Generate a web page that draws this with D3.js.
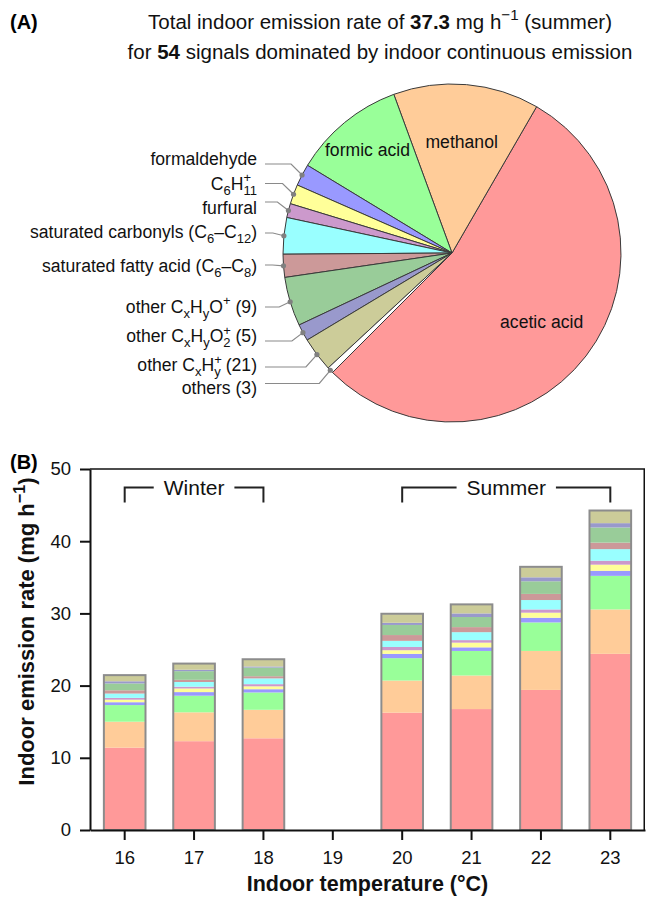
<!DOCTYPE html>
<html>
<head>
<meta charset="utf-8">
<script src="https://cdn.jsdelivr.net/npm/d3@7"></script>
<style>
  body { margin: 0; background: #fff; }
  svg { display: block; font-family: "Liberation Sans", Arial, sans-serif; }
</style>
</head>
<body>
<div id="chart"></div>
<script>
// species, in stacking order (bottom of bar first)
const species = ["acetic acid", "methanol", "formic acid", "formaldehyde", "C6H11+", "furfural",
                 "saturated carbonyls (C6-C12)", "saturated fatty acid (C6-C8)",
                 "other CxHyO+ (9)", "other CxHyO2+ (5)", "other CxHy+ (21)", "others (3)"];
const speciesColors = ["#ff9999", "#ffcc99", "#99ff99", "#9999ff", "#ffff99", "#cc99cc",
                       "#99ffff", "#cc9999", "#99cc99", "#9999cc", "#cccc99", "#ffffff"];

// (A) summer emission rates, mg/h (total 37.3)
const summerRates = [20.2, 5.2, 4.0, 0.78, 0.7, 0.5, 1.3, 0.82, 1.75, 0.6, 1.23, 0.22];

// (B) indoor emission rate per temperature, mg/h (no data at 19 °C)
const temperatures = [16, 17, 18, 19, 20, 21, 22, 23];
const aceticAcid    = [11.4, 12.3, 12.7, null, 16.25, 16.75, 19.4, 24.4];
const methanol      = [3.6, 4.0, 3.95, null, 4.45, 4.65, 5.4, 6.15];
const formicAcid    = [2.3, 2.3, 2.4, null, 3.1, 3.4, 3.95, 4.65];
const formaldehyde  = [0.4, 0.5, 0.45, null, 0.6, 0.5, 0.65, 0.7];
const c6h11         = [0.35, 0.5, 0.4, null, 0.5, 0.65, 0.7, 0.85];
const furfural      = [0.25, 0.25, 0.3, null, 0.45, 0.35, 0.45, 0.55];
const satCarbonyls  = [0.6, 0.65, 0.8, null, 0.85, 1.1, 1.3, 1.6];
const satFattyAcid  = [0.45, 0.3, 0.3, null, 0.8, 0.7, 0.85, 0.9];
const otherCHO      = [0.95, 1.2, 1.2, null, 1.4, 1.4, 1.75, 2.1];
const otherCHO2     = [0.3, 0.2, 0.15, null, 0.3, 0.5, 0.55, 0.6];
const otherCH       = [0.8, 0.8, 0.95, null, 1.2, 1.2, 1.4, 1.7];
const others        = [0.05, 0.05, 0.05, null, 0.05, 0.05, 0.05, 0.05];
const barSeries = [aceticAcid, methanol, formicAcid, formaldehyde, c6h11, furfural,
                   satCarbonyls, satFattyAcid, otherCHO, otherCHO2, otherCH, others];

const yTicks = [0, 10, 20, 30, 40, 50];

// rich label parts for the pie call-outs (index into species)
const pieLabelParts = {
  3: ["formaldehyde"],
  4: ["C", ["6", "sub"], "H", ["+", "sup"], ["11", "subS"]],
  5: ["furfural"],
  6: ["saturated carbonyls (C", ["6", "sub"], "\u2013C", ["12", "sub"], ")"],
  7: ["saturated fatty acid (C", ["6", "sub"], "\u2013C", ["8", "sub"], ")"],
  8: ["other C", ["x", "sub"], "H", ["y", "sub"], "O", ["+", "sup"], " (9)"],
  9: ["other C", ["x", "sub"], "H", ["y", "sub"], "O", ["+", "sup"], ["2", "subS"], " (5)"],
  10: ["other C", ["x", "sub"], "H", ["+", "sup"], ["y", "subS"], " (21)"],
  11: ["others (3)"]
};
// layout of call-outs: text baseline and leader line height
const calloutBase = {3: 165, 4: 189.5, 5: 214, 6: 238, 7: 272, 8: 312.5, 9: 342, 10: 371, 11: 394};
const calloutLine = {3: 164, 4: 183.5, 5: 202, 6: 233, 7: 265, 8: 307, 9: 341, 10: 367, 11: 383.5};
// radius of the inner slice labels
const innerLabelR = {0: 113, 1: 112, 2: 133};

const W = 646, H = 898;
const svg = d3.select("#chart").append("svg")
              .attr("width", W)
              .attr("height", H);

// helper: text with sub/superscripts and bold runs
function rich(textSel, parts, size) {
  let shift = 0, lastW = 0;
  parts.forEach(p => {
    const str = typeof p === "string" ? p : p[0];
    const kind = typeof p === "string" ? "" : p[1];
    const ts = textSel.append("tspan").text(str);
    let target = 0;
    if (kind === "sub" || kind === "subS") target = 0.3 * size;
    if (kind === "sup") target = -0.42 * size;
    if (kind === "sub" || kind === "subS" || kind === "sup") ts.attr("font-size", size * 0.74);
    if (kind === "b") ts.attr("font-weight", "bold");
    if (target - shift !== 0) ts.attr("dy", target - shift);
    if (kind === "subS") ts.attr("dx", -lastW);
    shift = target;
    lastW = ts.node().getComputedTextLength();
  });
}

// ---------- (A) pie ----------
svg.append("text").attr("x", 10).attr("y", 29)
   .attr("font-size", 20).attr("font-weight", "bold").text("(A)");

const t1 = svg.append("text").attr("x", 380).attr("y", 29)
              .attr("text-anchor", "middle").attr("font-size", 20.5).attr("fill", "#111");
rich(t1, ["Total indoor emission rate of ", ["37.3", "b"], " mg h", ["\u22121", "sup"], " (summer)"], 20.5);
const t2 = svg.append("text").attr("x", 380).attr("y", 59)
              .attr("text-anchor", "middle").attr("font-size", 20.5).attr("fill", "#111");
rich(t2, ["for ", ["54", "b"], " signals dominated by indoor continuous emission"], 20.5);

const pieR = 169;
const pieG = svg.append("g").attr("transform", "translate(452,253)");

const pie = d3.pie().sort(null).value(d => d)
              .startAngle(225 * Math.PI / 180)
              .endAngle(-135 * Math.PI / 180);
const arcs = pie(summerRates);
const arc = d3.arc().innerRadius(0).outerRadius(pieR);

pieG.selectAll(".slice")
    .data(arcs)
    .enter()
    .append("path")
    .attr("class", "slice")
    .attr("d", arc)
    .attr("fill", (d, i) => speciesColors[i])
    .attr("stroke", "#3a3a3a")
    .attr("stroke-width", 1);

// inner labels
arcs.forEach((d, i) => {
  if (innerLabelR[i] === undefined) return;
  const a = (d.startAngle + d.endAngle) / 2;
  pieG.append("text")
      .attr("x", Math.sin(a) * innerLabelR[i])
      .attr("y", -Math.cos(a) * innerLabelR[i])
      .attr("dy", "0.35em")
      .attr("text-anchor", "middle")
      .attr("font-size", 17.6)
      .attr("fill", "#111")
      .text(species[i]);
});

// call-outs on the left
const labelRight = 257, lineStart = 265;
arcs.forEach((d, i) => {
  if (!pieLabelParts[i]) return;
  const a = (d.startAngle + d.endAngle) / 2;
  const px = 452 + Math.sin(a) * pieR;
  const py = 253 - Math.cos(a) * pieR;
  const ly = calloutLine[i];
  const ex = Math.max(lineStart, px - 11);
  svg.append("polyline")
     .attr("points", `${lineStart},${ly} ${ex},${ly} ${px},${py}`)
     .attr("fill", "none")
     .attr("stroke", "#8a8a8a")
     .attr("stroke-width", 1.2);
  svg.append("circle").attr("cx", px).attr("cy", py).attr("r", 2.6).attr("fill", "#808080");

  const t = svg.append("text")
               .attr("x", labelRight)
               .attr("y", calloutBase[i])
               .attr("text-anchor", "end")
               .attr("font-size", 17.6)
               .attr("fill", "#111");
  rich(t, pieLabelParts[i], 17.6);
});

// ---------- (B) stacked bars ----------
const margin = { left: 90, right: 645, top: 469, bottom: 830 };

const x = d3.scaleBand()
            .domain(temperatures)
            .range([margin.left, margin.right])
            .paddingInner(0.4)
            .paddingOuter(0.2);

const y = d3.scaleLinear()
            .domain([0, 50])
            .range([margin.bottom, margin.top]);

const rows = temperatures
  .map((t, i) => ({ temp: t, values: barSeries.map(s => s[i]) }))
  .filter(r => r.values[0] != null);

const stack = d3.stack()
                .keys(d3.range(species.length))
                .value((r, k) => r.values[k]);
const layers = stack(rows);

const barG = svg.append("g");
barG.selectAll(".layer")
    .data(layers)
    .enter()
    .append("g")
    .attr("class", "layer")
    .attr("fill", (d, i) => speciesColors[i])
    .selectAll("rect")
    .data(d => d)
    .enter()
    .append("rect")
    .attr("x", d => x(d.data.temp))
    .attr("y", d => y(d[1]))
    .attr("width", x.bandwidth())
    .attr("height", d => y(d[0]) - y(d[1]));

// outline around each bar
barG.selectAll(".outline")
    .data(rows)
    .enter()
    .append("rect")
    .attr("class", "outline")
    .attr("x", d => x(d.temp))
    .attr("y", d => y(d3.sum(d.values)))
    .attr("width", x.bandwidth())
    .attr("height", d => y(0) - y(d3.sum(d.values)))
    .attr("fill", "none")
    .attr("stroke", "#8c8c8c")
    .attr("stroke-width", 2);

// frame top and right
svg.append("line")
   .attr("x1", margin.left).attr("x2", margin.right)
   .attr("y1", y(50)).attr("y2", y(50))
   .attr("stroke", "#111").attr("stroke-width", 1.5);
svg.append("line")
   .attr("x1", margin.right - 0.75).attr("x2", margin.right - 0.75)
   .attr("y1", y(50)).attr("y2", y(0))
   .attr("stroke", "#111").attr("stroke-width", 1.5);

// axes
const yAxisG = svg.append("g")
   .attr("transform", `translate(${margin.left},0)`)
   .call(d3.axisLeft(y).tickValues(yTicks).tickSize(10).tickSizeOuter(0).tickPadding(9));
const xAxisG = svg.append("g")
   .attr("transform", `translate(0,${margin.bottom})`)
   .call(d3.axisBottom(x).tickSize(10).tickSizeOuter(0).tickPadding(11));

[yAxisG, xAxisG].forEach(g => {
  g.attr("font-family", null).attr("font-size", null);
  g.select(".domain").attr("stroke", "#111").attr("stroke-width", 2);
  g.selectAll(".tick line").attr("stroke", "#111").attr("stroke-width", 2);
  g.selectAll(".tick text").attr("font-size", 18.5).attr("fill", "#111");
});

svg.append("text")
   .attr("x", 10).attr("y", 469)
   .attr("font-size", 20).attr("font-weight", "bold").text("(B)");

const yl = svg.append("text")
   .attr("transform", `translate(34,${(y(0) + y(50)) / 2 - 18}) rotate(-90)`)
   .attr("text-anchor", "middle")
   .attr("font-size", 22).attr("font-weight", "bold").attr("fill", "#111");
rich(yl, ["Indoor emission rate (mg h", ["\u22121", "sup"], ")"], 22);

svg.append("text")
   .attr("x", (margin.left + margin.right) / 2)
   .attr("y", 891)
   .attr("text-anchor", "middle")
   .attr("font-size", 21.5).attr("font-weight", "bold").attr("fill", "#111")
   .text("Indoor temperature (\u00b0C)");

// season brackets
function bracket(tFrom, tTo, label) {
  const xa = x(tFrom) + x.bandwidth() / 2;
  const xb = x(tTo) + x.bandwidth() / 2;
  const top = 487.5, bot = 502.5, mid = (xa + xb) / 2;
  const t = svg.append("text")
     .attr("x", mid).attr("y", 495)
     .attr("text-anchor", "middle")
     .attr("font-size", 21).attr("fill", "#111")
     .text(label);
  const half = t.node().getComputedTextLength() / 2 + 10;
  svg.append("path")
     .attr("d", `M${xa},${bot}V${top}H${mid - half}M${mid + half},${top}H${xb}V${bot}`)
     .attr("fill", "none")
     .attr("stroke", "#222")
     .attr("stroke-width", 2);
}
bracket(16, 18, "Winter");
bracket(20, 23, "Summer");
</script>
</body>
</html>
